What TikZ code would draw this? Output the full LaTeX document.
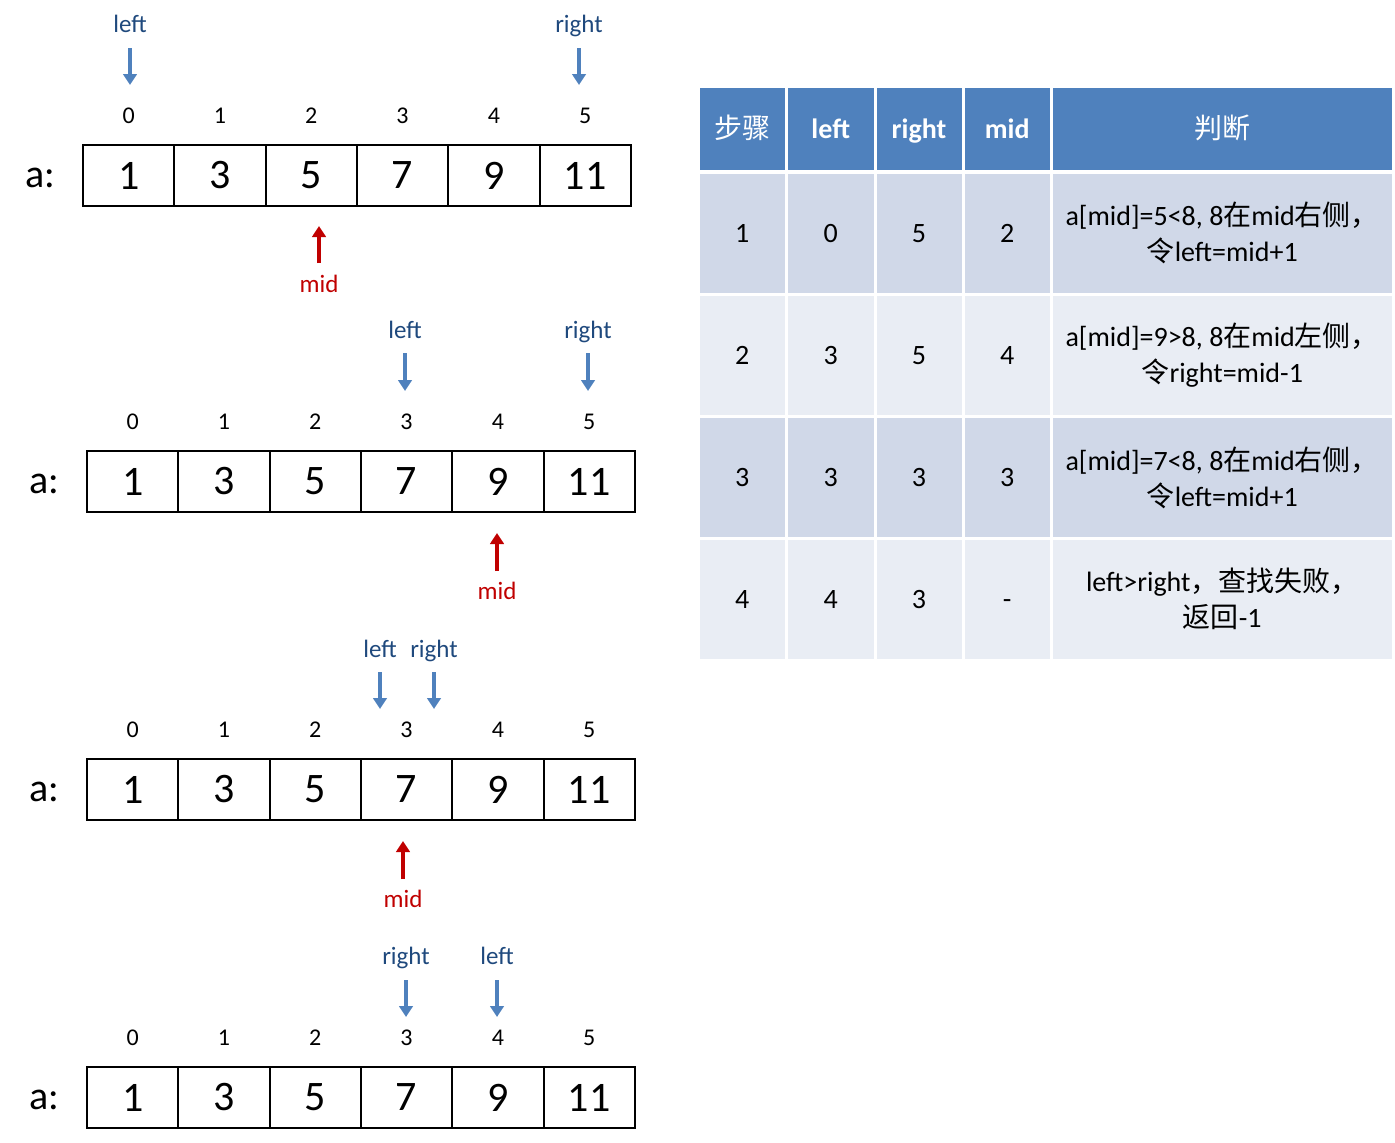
\documentclass[tikz,border=0pt]{standalone}
\usepackage{fontspec}
\setmainfont{Carlito}
\newfontfamily\cjk{Noto Sans CJK SC}
\usetikzlibrary{arrows.meta}
\definecolor{ptrblue}{HTML}{4F81BD}
\definecolor{lblblue}{HTML}{1F497D}
\definecolor{midred}{HTML}{C00000}
\definecolor{hdr}{HTML}{4F81BD}
\definecolor{rowA}{HTML}{D0D8E8}
\definecolor{rowB}{HTML}{E9EDF4}
\newcommand{\zh}[1]{{\cjk #1}}
% array macro: #1 prefix, #2 left x, #3 top y
\newcommand{\arrayrow}[3]{%
  \node[aname, anchor=base] (#1name) at (#2-43,#3+42) {a:};
  \foreach \i/\v in {0/1,1/3,2/5,3/7,4/9,5/11}{
    \node[cell] (#1c\i) at ({#2+45.65+91.3*\i},#3+30.5) {\v};
    \node[idx, anchor=base] (#1i\i) at ({#2+45.65+91.3*\i},#3-22) {\i};
  }}
\begin{document}
\begin{tikzpicture}[x=1pt,y=-1pt,
  cell/.style={draw=black, line width=2pt, minimum width=91.3pt, minimum height=61pt, inner sep=0pt, font=\fontsize{42}{44}\selectfont},
  idx/.style={inner sep=0pt, font=\fontsize{24}{26}\selectfont},
  aname/.style={inner sep=0pt, font=\fontsize{40}{42}\selectfont},
  ptrlbl/.style={inner sep=0pt, text=lblblue, font=\fontsize{25}{27}\selectfont},
  midlbl/.style={inner sep=0pt, text=midred, font=\fontsize{25}{27}\selectfont},
  ptr/.style={draw=ptrblue, line width=4.5pt, -{Triangle[width=13.5pt,length=11pt]}},
  midptr/.style={draw=midred, line width=4.5pt, -{Triangle[width=13.5pt,length=11pt]}},
  tc/.style={draw=white, line width=3pt, inner sep=0pt, align=center, font=\fontsize{28}{36}\selectfont},
  th/.style={tc, fill=hdr, text=white, minimum height=85pt, text height=22pt, text depth=2pt},
  thb/.style={th, font=\fontsize{28}{36}\selectfont\bfseries},
]
\useasboundingbox (0,0) rectangle (1395,1143);

% ---------- array 1 ----------
\arrayrow{A}{83}{145}
\node[ptrlbl, anchor=base] (Al) at (130,32) {left};
\coordinate (Als) at (130,48); \coordinate (Ale) at (130,85);
\draw[ptr] (Als) -- (Ale);
\node[ptrlbl, anchor=base] (Ar) at (579,32) {right};
\coordinate (Ars) at (579,48); \coordinate (Are) at (579,85);
\draw[ptr] (Ars) -- (Are);
\coordinate (Ams) at (319,263); \coordinate (Ame) at (319,226);
\draw[midptr] (Ams) -- (Ame);
\node[midlbl, anchor=base] (Am) at (319,292) {mid};

% ---------- array 2 ----------
\arrayrow{B}{87}{451}
\node[ptrlbl, anchor=base] (Bl) at (405,338) {left};
\coordinate (Bls) at (405,353); \coordinate (Ble) at (405,391);
\draw[ptr] (Bls) -- (Ble);
\node[ptrlbl, anchor=base] (Br) at (588,338) {right};
\coordinate (Brs) at (588,353); \coordinate (Bre) at (588,391);
\draw[ptr] (Brs) -- (Bre);
\coordinate (Bms) at (497,571); \coordinate (Bme) at (497,533);
\draw[midptr] (Bms) -- (Bme);
\node[midlbl, anchor=base] (Bm) at (497,599) {mid};

% ---------- array 3 ----------
\arrayrow{C}{87}{759}
\node[ptrlbl, anchor=base] (Cl) at (380,657) {left};
\coordinate (Cls) at (380,672); \coordinate (Cle) at (380,709);
\draw[ptr] (Cls) -- (Cle);
\node[ptrlbl, anchor=base] (Cr) at (434,657) {right};
\coordinate (Crs) at (434,672); \coordinate (Cre) at (434,709);
\draw[ptr] (Crs) -- (Cre);
\coordinate (Cms) at (403,879); \coordinate (Cme) at (403,841);
\draw[midptr] (Cms) -- (Cme);
\node[midlbl, anchor=base] (Cm) at (403,907) {mid};

% ---------- array 4 ----------
\arrayrow{D}{87}{1067}
\node[ptrlbl, anchor=base] (Dr) at (406,964) {right};
\coordinate (Drs) at (406,980); \coordinate (Dre) at (406,1017);
\draw[ptr] (Drs) -- (Dre);
\node[ptrlbl, anchor=base] (Dl) at (497,964) {left};
\coordinate (Dls) at (497,980); \coordinate (Dle) at (497,1017);
\draw[ptr] (Dls) -- (Dle);

% ---------- table ----------
\node[th, minimum width=88.5pt] (h1) at (742.25,128.5) {\zh{步骤}};
\node[thb, minimum width=88.5pt] (h2) at (830.75,128.5) {left};
\node[thb, minimum width=88pt] (h3) at (919,128.5) {right};
\node[thb, minimum width=88.5pt] (h4) at (1007.25,128.5) {mid};
\node[th, minimum width=341.5pt] (h5) at (1222.25,128.5) {\zh{判断}};

% row 1
\node[tc, fill=rowA, minimum width=88.5pt, minimum height=122.5pt] (r1c1) at (742.25,233.25) {1};
\node[tc, fill=rowA, minimum width=88.5pt, minimum height=122.5pt] (r1c2) at (830.75,233.25) {0};
\node[tc, fill=rowA, minimum width=88pt, minimum height=122.5pt] (r1c3) at (919,233.25) {5};
\node[tc, fill=rowA, minimum width=88.5pt, minimum height=122.5pt] (r1c4) at (1007.25,233.25) {2};
\node[tc, fill=rowA, minimum width=341.5pt, minimum height=122.5pt] (r1c5) at (1222.25,233.25) {a[mid]=5<8, 8\zh{在}mid\zh{右侧，}\\\zh{令}left=mid+1};

% row 2
\node[tc, fill=rowB, minimum width=88.5pt, minimum height=122pt] (r2c1) at (742.25,355.5) {2};
\node[tc, fill=rowB, minimum width=88.5pt, minimum height=122pt] (r2c2) at (830.75,355.5) {3};
\node[tc, fill=rowB, minimum width=88pt, minimum height=122pt] (r2c3) at (919,355.5) {5};
\node[tc, fill=rowB, minimum width=88.5pt, minimum height=122pt] (r2c4) at (1007.25,355.5) {4};
\node[tc, fill=rowB, minimum width=341.5pt, minimum height=122pt] (r2c5) at (1222.25,355.5) {a[mid]=9>8, 8\zh{在}mid\zh{左侧，}\\\zh{令}right=mid-1};

% row 3
\node[tc, fill=rowA, minimum width=88.5pt, minimum height=122pt] (r3c1) at (742.25,477.5) {3};
\node[tc, fill=rowA, minimum width=88.5pt, minimum height=122pt] (r3c2) at (830.75,477.5) {3};
\node[tc, fill=rowA, minimum width=88pt, minimum height=122pt] (r3c3) at (919,477.5) {3};
\node[tc, fill=rowA, minimum width=88.5pt, minimum height=122pt] (r3c4) at (1007.25,477.5) {3};
\node[tc, fill=rowA, minimum width=341.5pt, minimum height=122pt] (r3c5) at (1222.25,477.5) {a[mid]=7<8, 8\zh{在}mid\zh{右侧，}\\\zh{令}left=mid+1};

% row 4
\node[tc, fill=rowB, minimum width=88.5pt, minimum height=121.5pt] (r4c1) at (742.25,599.25) {4};
\node[tc, fill=rowB, minimum width=88.5pt, minimum height=121.5pt] (r4c2) at (830.75,599.25) {4};
\node[tc, fill=rowB, minimum width=88pt, minimum height=121.5pt] (r4c3) at (919,599.25) {3};
\node[tc, fill=rowB, minimum width=88.5pt, minimum height=121.5pt, text height=19pt, text depth=0pt] (r4c4) at (1007.25,599.25) {-};
\node[tc, fill=rowB, minimum width=341.5pt, minimum height=121.5pt] (r4c5) at (1222.25,599.25) {left>right\zh{，查找失败，}\\\zh{返回}-1};
\end{tikzpicture}
\end{document}
